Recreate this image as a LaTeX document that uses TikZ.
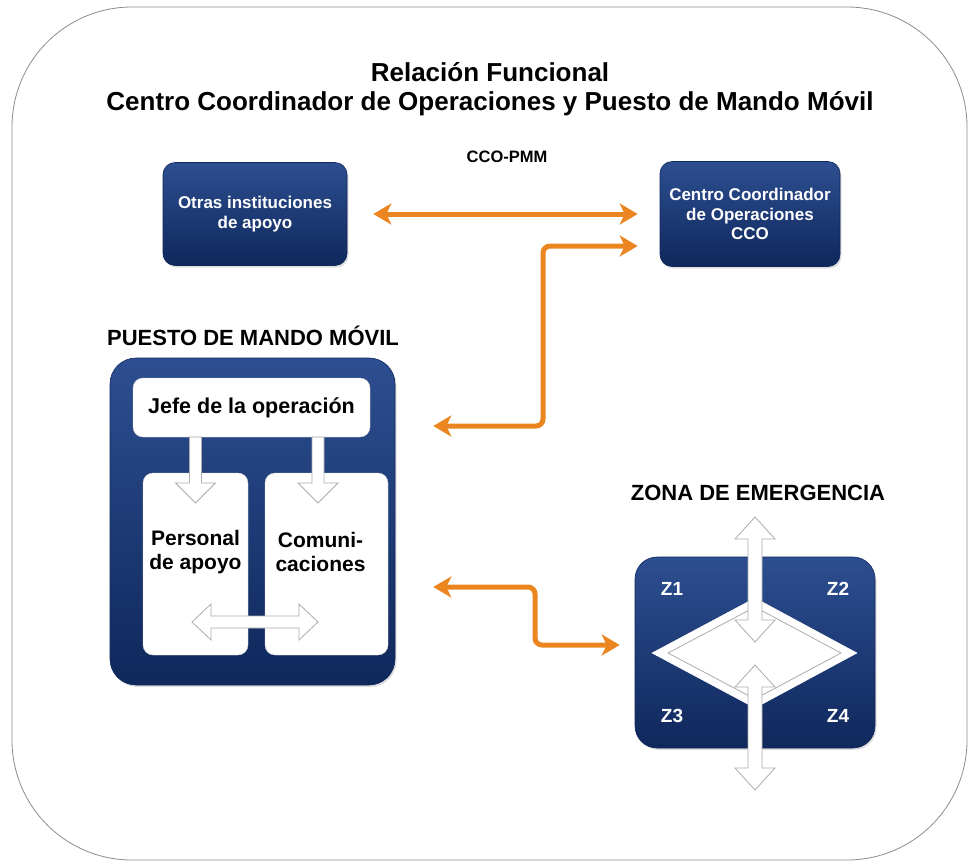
\documentclass[tikz,border=0pt]{standalone}
\usepackage{fontspec}
\setmainfont{Liberation Sans}
\usetikzlibrary{arrows.meta,shadows}
\definecolor{navytop}{HTML}{2D4E90}
\definecolor{navybot}{HTML}{0F285C}
\definecolor{naranja}{HTML}{EA851F}
\definecolor{marco}{HTML}{8C8C8C}
\newcommand\bajada[3]{\draw[bloque] ({#1-6},#2) -- ({#1+6},#2) -- ({#1+6},{#3-20}) -- ({#1+20},{#3-20}) -- (#1,#3) -- ({#1-20},{#3-20}) -- ({#1-6},{#3-20}) -- cycle;}
\newcommand\vdoble[3]{\draw[bloque] (#1,#2) -- ({#1+20},{#2+22}) -- ({#1+7},{#2+22}) -- ({#1+7},{#3-22}) -- ({#1+20},{#3-22}) -- (#1,#3) -- ({#1-20},{#3-22}) -- ({#1-7},{#3-22}) -- ({#1-7},{#2+22}) -- ({#1-20},{#2+22}) -- cycle;}
\begin{document}
\begin{tikzpicture}[x=1pt,y=-1pt]
  \tikzset{
    punta/.tip={Stealth[length=18pt,width=21pt,inset=5pt]},
    caja/.style={rounded corners=12pt, top color=navytop, bottom color=navybot, draw=navybot, line width=0.6pt,
      drop shadow={opacity=0.25,shadow xshift=1.5pt,shadow yshift=-2pt}, text=white, align=center,
      inner sep=0pt, font=\bfseries\fontsize{17}{19.5}\selectfont},
    blanca/.style={rounded corners=10pt, fill=white, draw=gray!35, inner sep=0pt},
    flecha/.style={draw=naranja, line width=5pt, rounded corners=7pt, punta-punta},
    bloque/.style={fill=white, draw=gray!65, line width=0.8pt},
    titulo/.style={font=\bfseries\fontsize{22}{24}\selectfont},
    zlabel/.style={text=white, font=\bfseries\fontsize{19}{21}\selectfont},
    interior/.style={align=center, font=\bfseries\fontsize{21}{24}\selectfont},
  }
  \useasboundingbox (0,0) rectangle (974,863);
  \draw[marco, line width=0.8pt, rounded corners=120pt] (12,7) rectangle (967,860);

  % titulo
  \node[align=center, font=\bfseries\fontsize{26}{29}\selectfont] (titulo) at (490,89)
    {Relación Funcional\\Centro Coordinador de Operaciones y Puesto de Mando Móvil};
  \node[font=\bfseries\fontsize{16.5}{18}\selectfont] (ccopmm) at (507,157) {CCO-PMM};

  \node[caja, minimum width=184pt, minimum height=103pt] (otras) at (255,214) {Otras instituciones\\de apoyo};
  \node[caja, minimum width=180pt, minimum height=105pt] (cco) at (750,214) {Centro Coordinador\\de Operaciones\\CCO};

  % puesto de mando
  \node[titulo] (ttpmm) at (253,336) {PUESTO DE MANDO MÓVIL};
  \node[caja, rounded corners=26pt, minimum width=285pt, minimum height=327pt] (pmm) at (252.5,521.5) {};
  \node[blanca, minimum width=237pt, minimum height=59pt, font=\bfseries\fontsize{21.5}{24}\selectfont] (jefe) at (251.5,407.5) {Jefe de la operación};
  \node[blanca, minimum width=105pt, minimum height=182pt] (personal) at (195.5,564) {};
  \node[blanca, minimum width=123pt, minimum height=182pt] (comunic) at (326.5,564) {};
  \node[interior] (txper) at (personal.center |- 0,552) {Personal\\de apoyo};
  \node[interior] (txcom) at ([xshift=-6pt]comunic.center |- 0,552) {Comuni-\\caciones};
  \bajada{195.5}{437}{503}
  \bajada{318}{437}{503}
  \draw[bloque] (192,622) -- (211,604) -- (211,616) -- (299,616) -- (299,604) -- (318,622)
    -- (299,640) -- (299,628) -- (211,628) -- (211,640) -- cycle;

  % zona de emergencia
  \node[titulo] (ttzona) at (758,493) {ZONA DE EMERGENCIA};
  \node[caja, rounded corners=22pt, minimum width=240pt, minimum height=191pt] (zona) at (755,652.5) {};
  \draw[white, fill=white] (652,653) -- (755,598) -- (857,653) -- (755,708) -- cycle;
  \draw[gray!65, line width=0.8pt] (668,653) -- (755,607) -- (841,653) -- (755,699) -- cycle;
  \node[zlabel] (z1) at (672,589) {Z1};
  \node[zlabel] (z2) at (838,589) {Z2};
  \node[zlabel] (z3) at (672,716) {Z3};
  \node[zlabel] (z4) at (838,716) {Z4};
  \vdoble{755}{517}{642}
  \vdoble{755}{665}{790}

  % flechas naranjas
  \coordinate (c1) at (543,246);
  \coordinate (c2) at (543,426);
  \coordinate (c3) at (535,587);
  \coordinate (c4) at (535,645);
  \draw[flecha] ([xshift=26pt]otras.east) -- ([xshift=-22pt]cco.west);
  \draw[flecha] ([xshift=-22pt]cco.west |- c1) -- (c1) -- (c2) -- ([xshift=38pt]pmm.east |- c2);
  \draw[flecha] ([xshift=38pt]pmm.east |- c3) -- (c3) -- (c4) -- ([xshift=-15pt]zona.west |- c4);
\end{tikzpicture}
\end{document}
